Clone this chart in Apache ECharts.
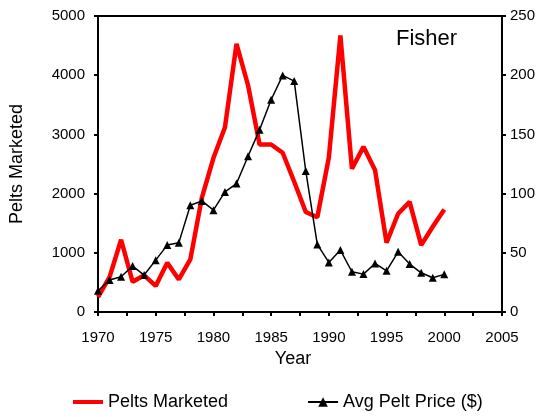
<!DOCTYPE html>
<html><head><meta charset="utf-8">
<script src="https://cdn.jsdelivr.net/npm/echarts@6/dist/echarts.min.js"></script>
<style>html,body{margin:0;padding:0;background:#fff}#c{width:538px;height:417px}</style>
</head><body><div id="c"></div>
<script>
const years = [1970,1971,1972,1973,1974,1975,1976,1977,1978,1979,1980,1981,1982,1983,1984,1985,1986,1987,1988,1989,1990,1991,1992,1993,1994,1995,1996,1997,1998,1999,2000];
const peltsMarketed = [250,590,1220,510,620,440,830,550,890,1930,2600,3120,4530,3830,2830,2830,2690,2200,1690,1600,2610,4670,2420,2790,2400,1170,1660,1860,1130,1440,1730];
const avgPeltPrice = [18,27,29.8,38.8,31.2,43.8,56.5,58.4,90.2,93.8,86,101.4,108.5,131.5,154,179.3,199.8,195,119.1,57.1,41.9,52.3,34,32,41,34.8,50.8,40.5,33.1,28.9,31.8];
const xTicks = [1970,1975,1980,1985,1990,1995,2000,2005];

const font = 'Liberation Sans, Arial, sans-serif';
const chart = echarts.init(document.getElementById('c'));
chart.setOption({
  animation: false,
  backgroundColor: '#fff',
  grid: {left: 97, right: 36, top: 16, bottom: 105, show: true, borderColor: '#000', borderWidth: 2},
  title: {text: 'Fisher', left: 391, top: 23, textStyle: {fontFamily: font, fontSize: 22, fontWeight: 'normal', color: '#000'}},
  legend: {
    left: 73, top: 393, padding: 0, itemWidth: 30, itemHeight: 12, itemGap: 79,
    textStyle: {fontFamily: font, fontSize: 18, color: '#000'},
    data: [{name: 'Pelts Marketed', icon: 'path://M0,0L30,0L30,4L0,4Z'}, 'Avg Pelt Price ($)']
  },
  xAxis: {
    type: 'value', min: xTicks[0], max: xTicks[xTicks.length-1], interval: 5,
    name: 'Year', nameLocation: 'middle', nameGap: 38,
    nameTextStyle: {fontFamily: font, fontSize: 18, color: '#000', padding: [0, 14, 0, 0]},
    axisLine: {onZero: false, lineStyle: {color: '#000', width: 2}},
    axisTick: {show: true, length: 4, lineStyle: {color: '#000', width: 2}},
    minorTick: {show: true, splitNumber: 2, length: 4, lineStyle: {color: '#000', width: 2}},
    axisLabel: {fontFamily: font, fontSize: 15, color: '#000', margin: 18, formatter: v => String(v)},
    splitLine: {show: false}
  },
  yAxis: [{
    type: 'value', min: 0, max: 5000, interval: 1000,
    name: 'Pelts Marketed', nameLocation: 'middle', nameGap: 72, nameRotate: 90,
    nameTextStyle: {fontFamily: font, fontSize: 18, color: '#000'},
    axisLine: {show: true, lineStyle: {color: '#000', width: 2}},
    axisTick: {show: true, length: 4, lineStyle: {color: '#000', width: 2}},
    axisLabel: {fontFamily: font, fontSize: 15, color: '#000', margin: 13, formatter: v => String(v)},
    splitLine: {show: false}
  }, {
    type: 'value', min: 0, max: 250, interval: 50, position: 'right',
    axisLine: {show: true, lineStyle: {color: '#000', width: 2}},
    axisTick: {show: true, length: 4, lineStyle: {color: '#000', width: 2}},
    axisLabel: {fontFamily: font, fontSize: 15, color: '#000', margin: 8, formatter: v => String(v)},
    splitLine: {show: false}
  }],
  series: [{
    name: 'Pelts Marketed', type: 'line', yAxisIndex: 0,
    data: years.map((y, i) => [y, peltsMarketed[i]]),
    symbol: 'none', lineStyle: {color: '#ff0000', width: 4.5}, itemStyle: {color: '#ff0000'}, z: 2
  }, {
    name: 'Avg Pelt Price ($)', type: 'line', yAxisIndex: 1,
    data: years.map((y, i) => [y, avgPeltPrice[i]]),
    symbol: 'triangle', symbolSize: 8, lineStyle: {color: '#000', width: 1.5}, itemStyle: {color: '#000'}, z: 3
  }]
});
</script></body></html>
